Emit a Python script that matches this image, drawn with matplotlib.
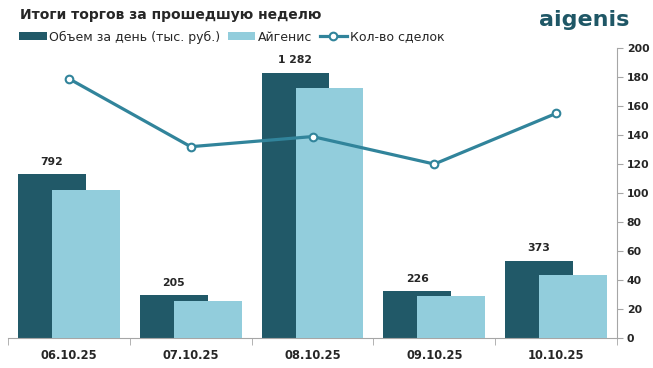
import matplotlib
matplotlib.use("Agg")
import matplotlib.pyplot as plt
import numpy as np

# data
dates = ["06.10.25", "07.10.25", "08.10.25", "09.10.25", "10.10.25"]
volume = [792, 205, 1282, 226, 373]
volume_labels = ["792", "205", "1 282", "226", "373"]
aigenis = [714, 178, 1208, 202, 303]
deals = [179, 132, 139, 120, 155]

dark = "#215968"
light = "#92CDDC"
line_c = "#31849B"
text_c = "#262626"
grey = "#A6A6A6"

plt.rcParams['font.family'] = ['DejaVu Sans']

fig = plt.figure(figsize=(6.53, 3.68), dpi=100)
ax = fig.add_axes([8/653, 1 - 337.7/368, (617 - 8)/653, (337.7 - 48.3)/368])
ax2 = ax.twinx()

x = np.arange(len(dates))
w = 0.557
off = 0.14
ax.bar(x - off, volume, w, color=dark, label="Объем за день (тыс. руб.)", zorder=2)
ax.bar(x + off, aigenis, w, color=light, label="Айгенис", zorder=3)
for xi, v, s in zip(x, volume, volume_labels):
    ax.text(xi - off, v + 35, s, ha="center", va="bottom", fontsize=7.8,
            fontweight="bold", color=text_c)

ax.set_ylim(0, 1400)
ax.set_xlim(-0.5, len(dates) - 0.5)
ax.set_yticks([])
for side in ["left", "top", "right"]:
    ax.spines[side].set_visible(False)
ax.spines["bottom"].set_color(grey)
ax.set_xticks(x)
ax.set_xticklabels(dates, fontsize=8.3, fontweight="bold", color=text_c)
ax.tick_params(axis="x", which="major", length=0, pad=8)
ax.set_xticks(np.arange(-0.5, len(dates)), minor=True)
ax.tick_params(axis="x", which="minor", length=5, color=grey)

ax2.plot(x, deals, color=line_c, lw=2.3, marker="o", ms=5.5,
         markerfacecolor="white", markeredgecolor=line_c, markeredgewidth=1.5,
         label="Кол-во сделок", zorder=5)
ax2.set_ylim(0, 200)
ax2.set_yticks(range(0, 201, 20))
ax2.tick_params(axis="y", labelsize=7.8, colors=text_c, length=4, color=grey, pad=3)
for lab in ax2.get_yticklabels():
    lab.set_fontweight("bold")
for side in ["left", "top", "bottom"]:
    ax2.spines[side].set_visible(False)
ax2.spines["right"].set_color(grey)

fig.text(20/653, 1 - 15/368, "Итоги торгов за прошедшую неделю", fontsize=10,
         fontweight="bold", color=text_c, va="center")
fig.text(629/653, 1 - 20/368, "aigenis", fontsize=16, fontweight="bold",
         color="#1F5766", ha="right", va="center")

h1, l1 = ax.get_legend_handles_labels()
h2, l2 = ax2.get_legend_handles_labels()
fig.legend(h1 + h2, l1 + l2, loc="center left", bbox_to_anchor=(14/653, 1 - 37/368),
           ncol=3, frameon=False, fontsize=9, handlelength=2.2, handleheight=0.6,
           handletextpad=0.2, columnspacing=0.6, borderaxespad=0, labelcolor=text_c)

fig.savefig("out.png", dpi=100)
